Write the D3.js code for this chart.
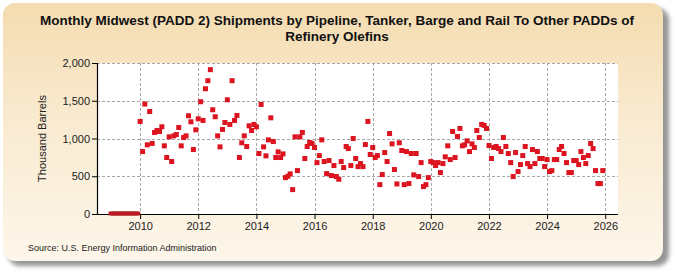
<!DOCTYPE html>
<html>
<head>
<meta charset="utf-8">
<script src="https://cdn.jsdelivr.net/npm/d3@7"></script>
<style>
  body { margin: 0; background: #fff; }
  svg text { font-family: "Liberation Sans", Arial, sans-serif; }
</style>
</head>
<body>
<div id="chart"></div>
<script>
"use strict";

/* global d3 */

let titleLines = [
  'Monthly Midwest (PADD 2)  Shipments by Pipeline, Tanker, Barge and Rail To Other PADDs of',
  'Refinery Olefins'
];
let yTitle = 'Thousand Barrels';
let sourceText = 'Source: U.S. Energy Information Administration';

// first month of the series
let startYear = 2009;

// thousand barrels, monthly from Jan 2009
let values = [
  0, 0, 0, 0, 0, 0, 0, 0, 0, 0, 0, 0,
  1226, 827, 1456, 916, 1358, 934, 1080, 1106, 1093, 1155, 903, 748,
  1022, 695, 1035, 1053, 1146, 903, 1013, 1035, 1301, 1221, 854, 1115,
  1261, 1487, 1239, 1659, 1766, 1912, 1381, 1288, 1035, 889, 1120, 1212,
  1513, 1186, 1766, 1239, 1305, 748, 943, 1035, 894, 1168, 1106, 1186,
  1155, 801, 1451, 889, 770, 982, 1274, 960, 748, 823, 748, 796,
  482, 500, 531, 323, 1022, 575, 1022, 1080, 735, 894, 947, 934,
  881, 681, 774, 982, 695, 535, 708, 509, 642, 496, 460, 695,
  615, 894, 867, 642, 1000, 735, 628, 668, 628, 920, 1226, 788,
  881, 748, 774, 389, 522, 814, 695, 1066, 929, 589, 398, 943,
  841, 389, 827, 403, 801, 518, 801, 496, 681, 363, 389, 482,
  695, 681, 642, 681, 549, 668, 757, 903, 721, 1093, 748, 1027,
  1133, 903, 916, 969, 827, 929, 881, 1106, 1013, 1186, 1173, 1133,
  907, 735, 881, 894, 867, 827, 1013, 894, 801, 681, 496, 814,
  562, 655, 774, 894, 668, 628, 854, 668, 827, 735, 735, 628,
  721, 562, 575, 721, 721, 854, 894, 801, 681, 549, 549, 708,
  708, 655, 827, 748, 668, 774, 934, 867, 575, 403, 403, 575
];

let yTicks = [0, 500, 1000, 1500, 2000];
let xTickYears = [2010, 2012, 2014, 2016, 2018, 2020, 2022, 2024, 2026];

let data = values.map((v, i) => ({
  date: new Date(startYear, i, 1),
  value: v
}));

let W = 675, H = 275;
let margin = { top: 63, left: 97 };
let width = 521;
let height = 151;

let translateStr = (x, y) => 'translate(' + x + ', ' + y + ')';

let svg = d3.select('#chart')
  .append('svg')
  .attr('width', W)
  .attr('height', H);

let defs = svg.append('defs');
let grad = defs.append('linearGradient')
  .attr('id', 'bg')
  .attr('x1', 0).attr('y1', 0)
  .attr('x2', 0).attr('y2', 1);
grad.append('stop').attr('offset', '0%').attr('stop-color', '#f4dcb0');
grad.append('stop').attr('offset', '45%').attr('stop-color', '#f9ead0');
grad.append('stop').attr('offset', '100%').attr('stop-color', '#fdf6ea');

let blur = defs.append('filter').attr('id', 'shadow')
  .attr('x', '-5%').attr('y', '-5%').attr('width', '110%').attr('height', '115%');
blur.append('feGaussianBlur').attr('stdDeviation', 2);

// panel shadow and panel
svg.append('rect')
  .attr('x', 8).attr('y', 8)
  .attr('width', 661).attr('height', 258)
  .attr('rx', 12)
  .attr('fill', '#959595')
  .attr('filter', 'url(#shadow)');

svg.append('rect')
  .attr('x', 3).attr('y', 3)
  .attr('width', 660).attr('height', 258)
  .attr('rx', 12)
  .attr('fill', 'url(#bg)');

// title
svg.append('g')
  .selectAll('text')
  .data(titleLines)
  .join('text')
  .attr('x', 337)
  .attr('y', (d, i) => 25 + i * 16)
  .attr('text-anchor', 'middle')
  .attr('font-size', 13.5)
  .attr('font-weight', 'bold')
  .attr('fill', '#111')
  .text(d => d);

let x = d3.scaleTime()
  .domain([new Date(2008, 6, 8), new Date(2026, 5, 10)])
  .range([0, width]);

let y = d3.scaleLinear()
  .domain([0, 2000])
  .range([height, 0]);

let g = svg.append('g')
  .attr('transform', translateStr(margin.left, margin.top));

g.append('rect')
  .attr('width', width)
  .attr('height', height)
  .attr('fill', '#fff');

// grid
g.append('g')
  .selectAll('line')
  .data(yTicks.filter(d => d > 0))
  .join('line')
  .attr('x1', 0).attr('x2', width)
  .attr('y1', d => Math.round(y(d)) + 0.5)
  .attr('y2', d => Math.round(y(d)) + 0.5)
  .attr('stroke', '#a8a8a8')
  .attr('stroke-dasharray', '3,2');

g.append('g')
  .selectAll('line')
  .data(xTickYears)
  .join('line')
  .attr('x1', d => Math.round(x(new Date(d, 0, 1))) + 0.5)
  .attr('x2', d => Math.round(x(new Date(d, 0, 1))) + 0.5)
  .attr('y1', 0).attr('y2', height)
  .attr('stroke', '#a8a8a8')
  .attr('stroke-dasharray', '3,2');

// axes
let yAxis = g.append('g')
  .call(d3.axisLeft(y)
    .tickValues(yTicks)
    .tickSize(5)
    .tickFormat(d3.format(',')));

let xAxis = g.append('g')
  .attr('transform', translateStr(0, height))
  .call(d3.axisBottom(x)
    .tickValues(xTickYears.map(d => new Date(d, 0, 1)))
    .tickSize(5)
    .tickFormat(d3.timeFormat('%Y')));

[yAxis, xAxis].forEach(a => {
  a.select('.domain').attr('stroke', '#000').attr('stroke-width', 1.2);
  a.selectAll('.tick line').attr('stroke', '#000');
  a.selectAll('.tick text')
    .attr('font-size', 11)
    .attr('font-family', '"Liberation Sans", Arial, sans-serif')
    .attr('fill', '#222');
});
yAxis.select('.domain').attr('d', 'M0.5,0V' + height);
xAxis.select('.domain').attr('d', 'M0,0.5H' + width);
yAxis.selectAll('.tick text').attr('x', -7);
xAxis.selectAll('.tick text').attr('y', 8);

// markers
let ms = 5;
g.append('g')
  .selectAll('rect')
  .data(data)
  .join('rect')
  .attr('x', d => x(d.date) - ms / 2)
  .attr('y', d => y(d.value) - ms / 2)
  .attr('width', ms)
  .attr('height', d => d.value === 0 ? 4 : ms)
  .attr('fill', d => d.value === 0 ? '#b81c22' : '#dc1420');

// y title
svg.append('text')
  .attr('transform', translateStr(46, margin.top + height / 2) + ' rotate(-90)')
  .attr('text-anchor', 'middle')
  .attr('font-size', 11)
  .attr('fill', '#222')
  .text(yTitle);

svg.append('text')
  .attr('x', 28)
  .attr('y', 251)
  .attr('font-size', 9)
  .attr('fill', '#222')
  .text(sourceText);
</script>
</body>
</html>
